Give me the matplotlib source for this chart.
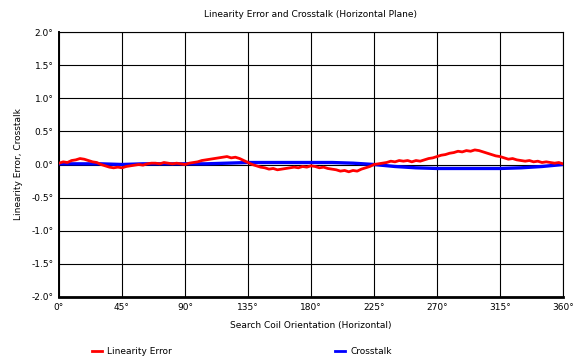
import numpy as np
import matplotlib
matplotlib.use('Agg')
import matplotlib.pyplot as plt
from matplotlib.lines import Line2D

lin_deg = list(range(0, 361, 3))
lin_err = [0.02, 0.04, 0.03, 0.06, 0.07, 0.09, 0.08, 0.06, 0.04, 0.03,
           0.00, -0.02, -0.04, -0.05, -0.04, -0.05, -0.03, -0.02, -0.01, 0.00,
           -0.01, 0.01, 0.02, 0.02, 0.01, 0.03, 0.02, 0.01, 0.02, 0.01,
           0.00, 0.02, 0.03, 0.04, 0.06, 0.07, 0.08, 0.09, 0.10, 0.11,
           0.12, 0.10, 0.11, 0.09, 0.06, 0.03, 0.00, -0.02, -0.04, -0.05,
           -0.07, -0.06, -0.08, -0.07, -0.06, -0.05, -0.04, -0.05, -0.03, -0.04,
           -0.02, -0.03, -0.05, -0.04, -0.06, -0.07, -0.08, -0.10, -0.09, -0.11,
           -0.09, -0.10, -0.07, -0.05, -0.03, 0.00, 0.01, 0.02, 0.03, 0.05,
           0.04, 0.06, 0.05, 0.06, 0.04, 0.06, 0.05, 0.07, 0.09, 0.10,
           0.12, 0.14, 0.15, 0.17, 0.18, 0.20, 0.19, 0.21, 0.20, 0.22,
           0.21, 0.19, 0.17, 0.15, 0.13, 0.12, 0.10, 0.08, 0.09, 0.07,
           0.06, 0.05, 0.06, 0.04, 0.05, 0.03, 0.04, 0.03, 0.02, 0.03,
           0.01]

# crosstalk, every 15 degrees
xt_deg = list(range(0, 361, 15))
xtalk = [0.01, 0.01, 0.01, 0.00, 0.01, 0.01, 0.01, 0.01, 0.02, 0.03,
         0.03, 0.03, 0.03, 0.03, 0.02, 0.00, -0.03, -0.05, -0.06, -0.06,
         -0.06, -0.06, -0.05, -0.03, 0.00]

xticks = list(range(0, 361, 45))
yticks = [-2.0, -1.5, -1.0, -0.5, 0.0, 0.5, 1.0, 1.5, 2.0]

fs = 6.5
fig = plt.figure(figsize=(5.88, 3.62), dpi=100)
ax = fig.add_axes([59/588, 1-297/362, 504/588, 265/362])

ax.plot(xt_deg, xtalk, color='#0000ff', lw=2.4, solid_capstyle='butt', zorder=3)
ax.plot(lin_deg, lin_err, color='#ff0000', lw=2.0, zorder=4)

ax.set_xlim(0, 360)
ax.set_ylim(-2, 2)
ax.set_xticks(xticks)
ax.set_xticklabels(['%d\u00b0' % v for v in xticks], fontsize=fs)
ax.set_yticks(yticks)
ax.set_yticklabels(['%.1f\u00b0' % v for v in yticks], fontsize=fs)
ax.tick_params(length=0, pad=4)
ax.grid(True, color='black', lw=0.8)
for s in ax.spines.values():
    s.set_linewidth(0.8)
ax.spines['bottom'].set_linewidth(2)
ax.spines['left'].set_linewidth(1.4)

ax.set_title('Linearity Error and Crosstalk (Horizontal Plane)', fontsize=fs, pad=11)
ax.set_xlabel('Search Coil Orientation (Horizontal)', fontsize=fs, labelpad=7)
ax.set_ylabel('Linearity Error, Crosstalk', fontsize=fs, labelpad=6)

handles = [Line2D([], [], color='#ff0000', lw=2), Line2D([], [], color='#0000ff', lw=2)]
fig.legend(handles, ['Linearity Error', 'Crosstalk'], loc='center left',
           bbox_to_anchor=(84/588, 1-352/362), ncol=2, frameon=False, fontsize=fs,
           handlelength=1.1, handletextpad=0.6, columnspacing=18)

fig.savefig('out.png', dpi=100)
